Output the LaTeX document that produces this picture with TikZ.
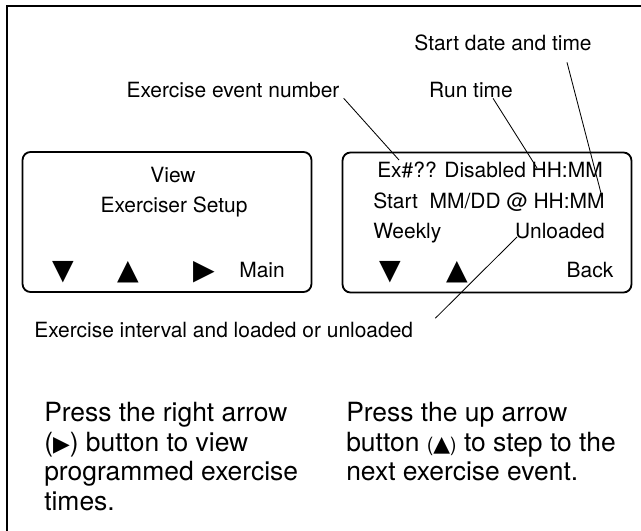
\documentclass[tikz,border=0pt]{standalone}
\usepackage{fontspec}
\setmainfont{TeX Gyre Heros}
\newfontfamily\symfont{DejaVu Sans}
\usetikzlibrary{calc}
\newcommand{\inltri}[1]{{\symfont\fontsize{15.5}{15.5}\selectfont #1}}

\begin{document}
\begin{tikzpicture}[x=0.025cm, y=-0.025cm,
    lcd/.style={rectangle, draw, rounded corners=0.2cm, line width=1.3pt, minimum width=7.22cm, minimum height=3.5cm},
    lbl/.style={inner sep=0pt, font=\fontsize{14.9}{17}\selectfont},
    btn/.style={inner sep=0pt, font=\symfont\fontsize{20}{20}\selectfont},
    note/.style={inner sep=0pt, anchor=north west, align=left, font=\fontsize{18.8}{21}\selectfont},
    leader/.style={line width=0.6pt}
]
\useasboundingbox (0,0) rectangle (641,531);
\draw[line width=2pt] (7,531) |- (641,6);

\node[lcd] (viewbox) at (167,222) {};
\node[lcd] (eventbox) at (487,222.5) {};

\node[lbl, anchor=mid] (viewline) at (173,179) {View};
\node[lbl, anchor=mid] (setupline) at (174,209) {Exerciser Setup};
\node[btn] (viewdown) at (63,272) {▼};
\node[btn] (viewup) at (128,272) {▲};
\node[btn] (viewright) at (204,272) {▶};
\node[lbl, anchor=mid] (viewmain) at (262,274) {Main};

\node[lbl, anchor=mid] (exline) at (490,174) {Ex\#?? Disabled HH:MM};
\node[lbl, anchor=mid west] (startline) at (373,205) {Start\ \ MM/DD @ HH:MM};
\node[lbl, anchor=mid west] (weekly) at (373,235) {Weekly};
\node[lbl, anchor=mid east] (unloaded) at (605,235) {Unloaded};
\node[btn] (eventdown) at (390,272) {▼};
\node[btn] (eventup) at (457,272) {▲};
\node[lbl, anchor=mid] (eventback) at (590,274) {Back};

\node[lbl, anchor=mid] (startlbl) at (503,47) {Start date and time};
\node[lbl, anchor=mid] (evtlbl) at (233,94) {Exercise event number};
\node[lbl, anchor=mid] (runlbl) at (471,94) {Run time};
\node[lbl, anchor=mid west] (intlbl) at (34,334) {Exercise interval and loaded or unloaded};

\coordinate (evttip) at (399,160);
\coordinate (runtip) at (537,168);
\coordinate (starttip) at (602,197);
\coordinate (inttip) at (517,237);
\draw[leader] ($(evtlbl.south east)+(4,0)$) -- (evttip);
\draw[leader] ($(runlbl.south)+(22,0)$) -- (runtip);
\draw[leader] ($(startlbl.south)+(64,11)$) -- (starttip);
\draw[leader] ($(intlbl.east)+(22,-12)$) -- (inttip);

\node[note] (rightnote) at (44,402) {Press the right arrow\\(\inltri{▶}) button to view\\programmed exercise\\times.};
\node[note] (upnote) at (346,402) {Press the up arrow\\button {\fontsize{14}{14}\selectfont(\inltri{▲})} to step to the\\next exercise event.};
\end{tikzpicture}
\end{document}
